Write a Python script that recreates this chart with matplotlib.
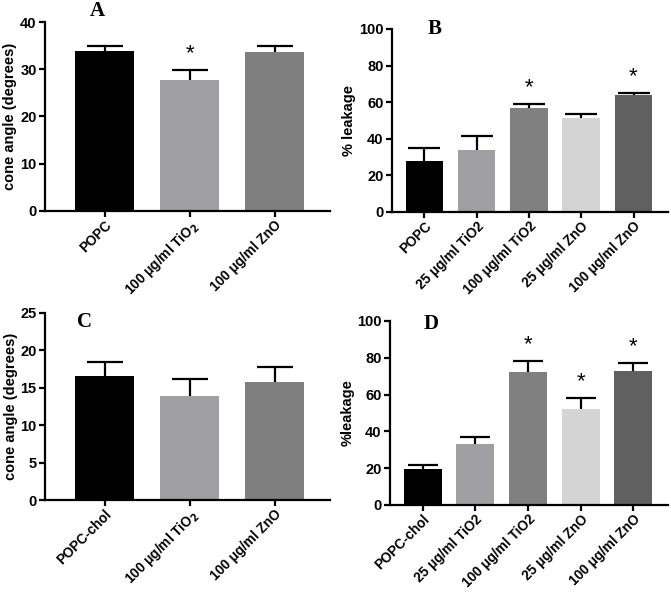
import matplotlib
matplotlib.use("Agg")
import matplotlib.pyplot as plt
import numpy as np

plt.rcParams['font.family'] = ['Liberation Sans', 'DejaVu Sans']
plt.rcParams['font.weight'] = 'bold'
plt.rcParams['mathtext.default'] = 'bf'

# panel A
a_labels = ["POPC", "100 μg/ml TiO$_2$", "100 μg/ml ZnO"]
a_vals = [33.9, 27.7, 33.7]
a_err = [1.0, 2.1, 1.3]
a_star = [False, True, False]

# panel B
b_labels = ["POPC", "25 μg/ml TiO2", "100 μg/ml TiO2", "25 μg/ml ZnO", "100 μg/ml ZnO"]
b_vals = [27.9, 33.9, 56.8, 51.5, 64.1]
b_err = [7.1, 7.6, 2.2, 2.0, 1.1]
b_star = [False, False, True, False, True]

# panel C
c_labels = ["POPC-chol", "100 μg/ml TiO$_2$", "100 μg/ml ZnO"]
c_vals = [16.6, 13.9, 15.8]
c_err = [1.8, 2.3, 2.0]
c_star = [False, False, False]

# panel D
d_labels = ["POPC-chol", "25 μg/ml TiO2", "100 μg/ml TiO2", "25 μg/ml ZnO", "100 μg/ml ZnO"]
d_vals = [19.3, 33.3, 72.3, 52.3, 72.8]
d_err = [2.2, 3.8, 6.0, 5.9, 4.5]
d_star = [False, False, True, True, True]

grey3 = ["#000000", "#a0a0a4", "#7f7f7f"]
grey5 = ["#000000", "#a0a0a4", "#808080", "#d4d4d4", "#606060"]


def panel(rect, labels, vals, err, star, colors, ylim, yticks, ylabel, letter,
          letter_xy, width, xlim, capsize):
    ax = fig.add_axes(rect)
    x = np.arange(len(vals))
    ax.bar(x, vals, width=width, color=colors, zorder=2)
    eb = ax.errorbar(x, vals, yerr=[np.zeros(len(err)), err], fmt='none',
                     ecolor='black', elinewidth=1.6, capsize=capsize, capthick=1.6, zorder=3)
    # keep only the upper cap
    eb[1][0].remove()
    for xi, v, e, s in zip(x, vals, err, star):
        if s:
            ax.annotate("*", (xi, v + e), xytext=(0, 4), textcoords='offset points',
                        ha='center', va='bottom', fontsize=16, fontweight='normal')
    ax.set_xlim(*xlim)
    ax.set_ylim(*ylim)
    ax.set_yticks(yticks)
    ax.set_xticks(x)
    ax.set_xticklabels(labels, rotation=45, ha='right', rotation_mode='anchor')
    ax.set_ylabel(ylabel, fontsize=10.5, fontweight='bold', labelpad=2)
    for sp in ['top', 'right']:
        ax.spines[sp].set_visible(False)
    for sp in ['left', 'bottom']:
        ax.spines[sp].set_linewidth(1.6)
    ax.tick_params(axis='y', direction='out', length=4, width=1.6, labelsize=10.5, pad=2)
    ax.tick_params(axis='x', direction='out', length=4, width=1.6, labelsize=9.8, pad=1)
    fig.text(letter_xy[0] / 671, 1 - letter_xy[1] / 594, letter,
             family=['Liberation Serif', 'DejaVu Serif'], fontsize=15,
             fontweight='bold', ha='center', va='center')
    return ax


fig = plt.figure(figsize=(6.71, 5.94), dpi=100)

W, H = 671.0, 594.0
def r(l, t, rr, b):
    return [l / W, 1 - b / H, (rr - l) / W, (b - t) / H]

panel(r(45, 22, 330, 211), a_labels, a_vals, a_err, a_star, grey3, (0, 40),
      [0, 10, 20, 30, 40], "cone angle (degrees)", "A", (97, 11), 0.7,
      (-0.7, 2.65), 13)
panel(r(392, 29, 668, 212), b_labels, b_vals, b_err, b_star, grey5, (0, 100),
      [0, 20, 40, 60, 80, 100], "% leakage", "B", (435, 29), 0.72,
      (-0.62, 4.66), 11.5)
panel(r(45, 313, 330, 500), c_labels, c_vals, c_err, c_star, grey3, (0, 25),
      [0, 5, 10, 15, 20, 25], "cone angle (degrees)", "C", (85, 322), 0.7,
      (-0.7, 2.65), 13)
panel(r(390, 321, 668, 505), d_labels, d_vals, d_err, d_star, grey5, (0, 100),
      [0, 20, 40, 60, 80, 100], "%leakage", "D", (431, 324), 0.72,
      (-0.62, 4.66), 10.5)

fig.savefig("out.png", dpi=100)
